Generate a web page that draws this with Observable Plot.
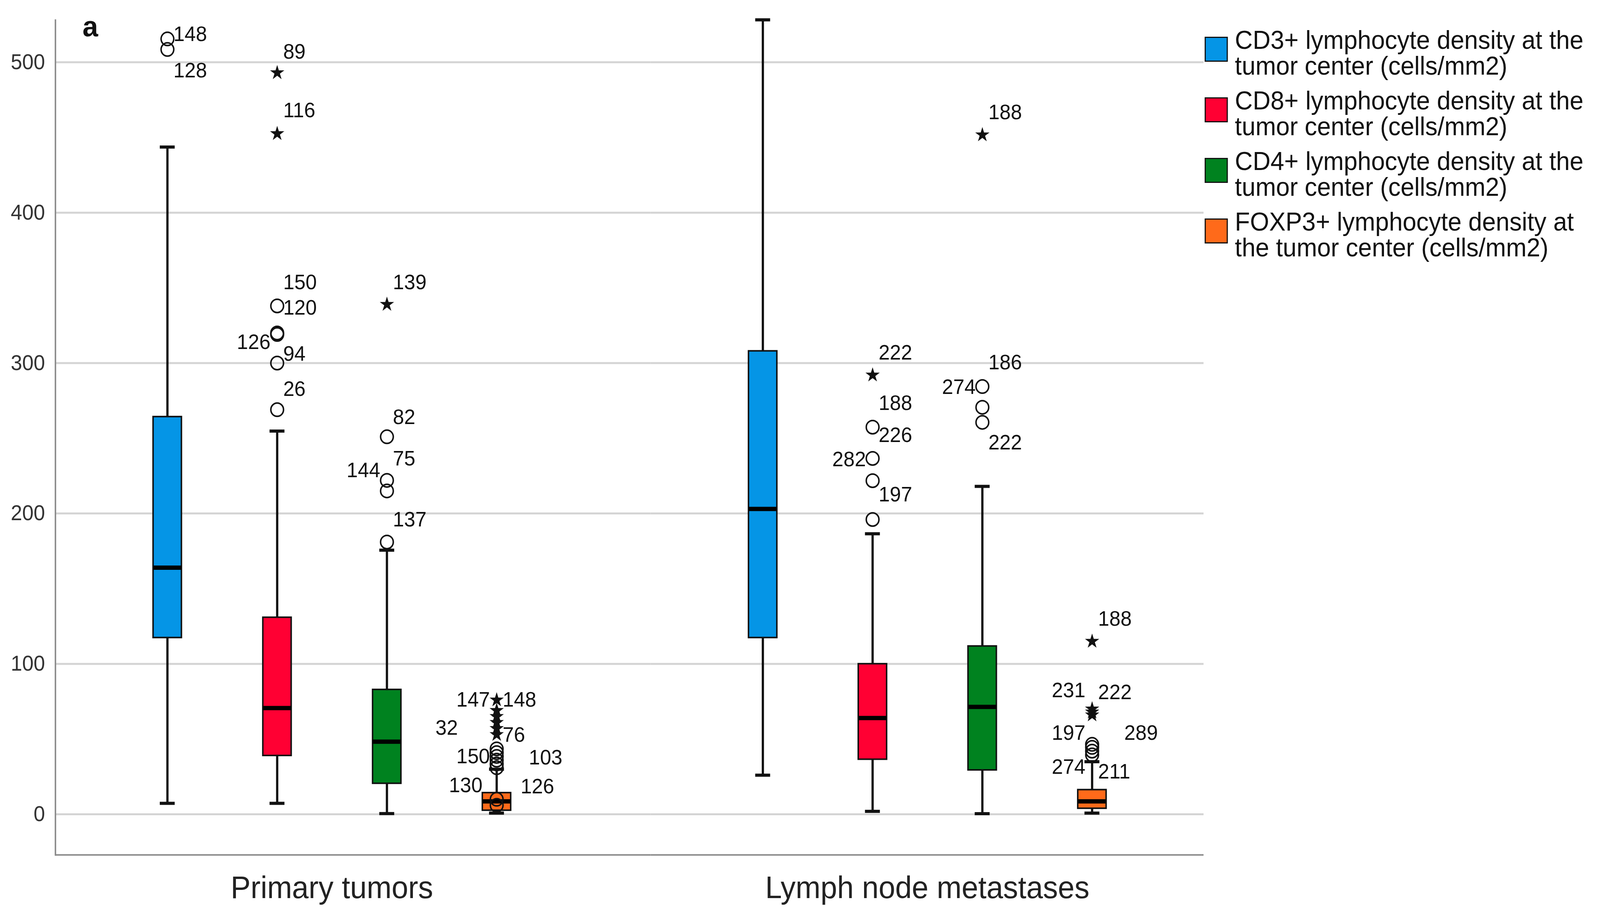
<!DOCTYPE html>
<html>
<head>
<meta charset="utf-8">
<script src="https://cdn.jsdelivr.net/npm/d3@7"></script>
<script src="https://cdn.jsdelivr.net/npm/@observablehq/plot@0.6"></script>
<style>
  html, body { margin: 0; padding: 0; background: #fff; overflow: hidden; }
  #wrap { position: relative; width: 4286px; height: 2331px; overflow: hidden; font-family: 'Liberation Sans', Arial, sans-serif; transform-origin: 0 0; }
  #wrap svg { position: absolute; left: 0; top: 0; }
  .panel { position: absolute; left: 221px; top: 30px; font-size: 75px; line-height: 75px; font-weight: bold; color: #111; }
  .sw { position: absolute; width: 56px; height: 58px; border: 3px solid #111; }
  .lt { position: absolute; font-size: 66px; line-height: 66px; color: #111; white-space: nowrap; }
</style>
</head>
<body>
<div id="wrap"></div>
<script>
// ---- data ----
const groups = ["Primary tumors", "Lymph node metastases"];
const seriesKeys = ["CD3", "CD8", "CD4", "FOXP3"];
const seriesColors = ["#0595E6", "#FF0033", "#00821F", "#FF6A1A"];
const legendLines = [
  ["CD3+ lymphocyte density at the", "tumor center (cells/mm2)"],
  ["CD8+ lymphocyte density at the", "tumor center (cells/mm2)"],
  ["CD4+ lymphocyte density at the", "tumor center (cells/mm2)"],
  ["FOXP3+ lymphocyte density at", "the tumor center (cells/mm2)"]
];
const yTicks = [0, 100, 200, 300, 400, 500];
const yDomain = [-27, 528];

// box statistics, rows = groups, columns = series
const whiskerLow  = [[7.3, 7.3, 0.5, 0.8], [26, 2, 0.4, 0.8]];
const quartile1   = [[117.4, 39, 20.5, 2.6], [117.4, 36.5, 29.4, 3.9]];
const medians     = [[164, 70.6, 48.3, 8.6], [203, 64, 71.4, 8.6]];
const quartile3   = [[264.3, 130.9, 82.9, 14.3], [308, 100, 111.8, 16.3]];
const whiskerHigh = [[443.6, 254.8, 175.6, 30], [528.2, 186.5, 218, 35]];

// outliers: [group index, series, value]
const circleOutliers = [
  [0, "CD3", 515.5], [0, "CD3", 508.5],
  [0, "CD8", 338], [0, "CD8", 320], [0, "CD8", 319], [0, "CD8", 300], [0, "CD8", 269],
  [0, "CD4", 251], [0, "CD4", 222], [0, "CD4", 215], [0, "CD4", 181],
  [0, "FOXP3", 31], [0, "FOXP3", 33.5], [0, "FOXP3", 36], [0, "FOXP3", 38.5], [0, "FOXP3", 41], [0, "FOXP3", 43.5],
  [0, "FOXP3", 10], [0, "FOXP3", 6],
  [1, "CD8", 257.4], [1, "CD8", 236.6], [1, "CD8", 221.8], [1, "CD8", 196],
  [1, "CD4", 284.4], [1, "CD4", 270.6], [1, "CD4", 260.6],
  [1, "FOXP3", 39.5], [1, "FOXP3", 42], [1, "FOXP3", 44.5], [1, "FOXP3", 46.5]
];
const starOutliers = [
  [0, "CD8", 493], [0, "CD8", 452.5],
  [0, "CD4", 339],
  [0, "FOXP3", 53], [0, "FOXP3", 57], [0, "FOXP3", 61], [0, "FOXP3", 65], [0, "FOXP3", 69], [0, "FOXP3", 76],
  [1, "CD8", 292],
  [1, "CD4", 451.7],
  [1, "FOXP3", 66], [1, "FOXP3", 68], [1, "FOXP3", 70], [1, "FOXP3", 115]
];
// case labels: [group index, series, text, value level, side]
const caseLabels = [
  [0, "CD3", "148", 518.5, "r"], [0, "CD3", "128", 494.3, "r"],
  [0, "CD8", "89", 507, "r"], [0, "CD8", "116", 468, "r"], [0, "CD8", "150", 353.7, "r"],
  [0, "CD8", "120", 336.6, "r"], [0, "CD8", "126", 313.9, "l"], [0, "CD8", "94", 306, "r"], [0, "CD8", "26", 282.7, "r"],
  [0, "CD4", "139", 353.7, "r"], [0, "CD4", "82", 264, "r"], [0, "CD4", "75", 236.5, "r"],
  [0, "CD4", "144", 228.7, "l"], [0, "CD4", "137", 196, "r"],
  [0, "FOXP3", "147", 76, "l"], [0, "FOXP3", "148", 76, "r"], [0, "FOXP3", "32", 57.5, "L"],
  [0, "FOXP3", "76", 52.6, "r"], [0, "FOXP3", "150", 38.4, "l"], [0, "FOXP3", "103", 37.6, "R"],
  [0, "FOXP3", "130", 19.2, "ll"], [0, "FOXP3", "126", 18.5, "rr"],
  [1, "CD8", "222", 306.8, "r"], [1, "CD8", "188", 273.4, "r"], [1, "CD8", "226", 252, "r"],
  [1, "CD8", "282", 235.8, "l"], [1, "CD8", "197", 212.4, "r"],
  [1, "CD4", "188", 466.6, "r"], [1, "CD4", "186", 300.4, "r"], [1, "CD4", "274", 284, "l"], [1, "CD4", "222", 247, "r"],
  [1, "FOXP3", "188", 130, "r"], [1, "FOXP3", "231", 82.4, "l"], [1, "FOXP3", "222", 81, "r"],
  [1, "FOXP3", "197", 54, "l"], [1, "FOXP3", "289", 54, "R"], [1, "FOXP3", "274", 31.3, "l"], [1, "FOXP3", "211", 28.4, "r"]
];

// ---- tables built from the arrays ----
const boxes = [];
groups.forEach((g, gi) => seriesKeys.forEach((s, si) => boxes.push({
  group: g, series: s,
  lo: whiskerLow[gi][si], q1: quartile1[gi][si], med: medians[gi][si],
  q3: quartile3[gi][si], hi: whiskerHigh[gi][si]
})));
const toPoint = ([gi, s, v]) => ({group: groups[gi], series: s, value: v});
const circles = circleOutliers.map(toPoint);
const stars = starOutliers.map(toPoint);
const labels = caseLabels.map(([gi, s, t, v, side]) => ({group: groups[gi], series: s, text: t, value: v, side}));
const sideOffsets = {r: 16, l: -18, rr: 64, ll: -38, R: 86, L: -104};

// layout
const W = 4286, H = 2331, mL = 147, mR = 1061, mT = 51, mB = 144;
const fxPadInner = 0.0714;
const facetGap = (W - mL - mR) / (2 - fxPadInner) * fxPadInner; // space between the two facets
// horizontal guides: the first facet's copy is stretched over the gap so lines run unbroken
const gridRows = groups.map(g => yTicks.map(y => ({group: g, y}))).flat();
const baseRows = groups.map(g => ({group: g, y: yDomain[0]}));

const labelMarks = Object.entries(sideOffsets).map(([side, dx]) =>
  Plot.text(labels.filter(d => d.side === side), {
    fx: "group", x: "series", y: "value", text: "text",
    dx, textAnchor: dx > 0 ? "start" : "end", fontSize: 54, fill: "#111"
  })
);
const chart = Plot.plot({
  width: W, height: H,
  marginLeft: mL, marginRight: mR, marginTop: mT, marginBottom: mB,
  style: {fontFamily: "'Liberation Sans', Arial, sans-serif", fontSize: "55px", background: "transparent", color: "#111"},
  fx: {domain: groups, paddingInner: fxPadInner, paddingOuter: 0, label: null},
  x: {domain: seriesKeys, paddingInner: 0.742, paddingOuter: 0.889, axis: null},
  y: {domain: yDomain, axis: null},
  color: {domain: seriesKeys, range: seriesColors},
  marks: [
    Plot.ruleY(gridRows.filter(d => d.group === groups[0]), {fx: "group", y: "y", stroke: "#d4d4d4", strokeWidth: 5, insetRight: -facetGap}),
    Plot.ruleY(gridRows.filter(d => d.group === groups[1]), {fx: "group", y: "y", stroke: "#d4d4d4", strokeWidth: 5}),
    Plot.ruleY(baseRows.filter(d => d.group === groups[0]), {fx: "group", y: "y", stroke: "#8c8c8c", strokeWidth: 4, insetRight: -facetGap}),
    Plot.ruleY(baseRows.filter(d => d.group === groups[1]), {fx: "group", y: "y", stroke: "#8c8c8c", strokeWidth: 4}),
    Plot.frame({anchor: "left", facetAnchor: "left", stroke: "#8c8c8c", strokeWidth: 4}),
    Plot.axisY(yTicks, {tickSize: 0, tickPadding: 28, fontSize: 55, fill: "#333", label: null}),
    Plot.axisFx({anchor: "bottom", tickSize: 0, tickPadding: 54, fontSize: 80, fill: "#222", label: null}),
    Plot.ruleX(boxes, {fx: "group", x: "series", y1: "lo", y2: "q1", stroke: "#111", strokeWidth: 6}),
    Plot.ruleX(boxes, {fx: "group", x: "series", y1: "q3", y2: "hi", stroke: "#111", strokeWidth: 6}),
    Plot.tickY(boxes, {fx: "group", x: "series", y: "lo", stroke: "#111", strokeWidth: 8, insetLeft: 18, insetRight: 18}),
    Plot.tickY(boxes, {fx: "group", x: "series", y: "hi", stroke: "#111", strokeWidth: 8, insetLeft: 18, insetRight: 18}),
    Plot.barY(boxes, {fx: "group", x: "series", y1: "q1", y2: "q3", fill: "series", stroke: "#111", strokeWidth: 4}),
    Plot.tickY(boxes, {fx: "group", x: "series", y: "med", stroke: "#000", strokeWidth: 11}),
    Plot.dot(circles, {fx: "group", x: "series", y: "value", r: 17, stroke: "#111", strokeWidth: 4, fill: "none"}),
    Plot.dot(stars, {fx: "group", x: "series", y: "value", symbol: "star", r: 12, fill: "#111", stroke: "none"}),
    ...labelMarks
  ]
});
const wrap = document.getElementById("wrap");
wrap.appendChild(chart);

// panel letter
const panel = document.createElement("div");
panel.className = "panel";
panel.textContent = "a";
wrap.appendChild(panel);

// legend from the colour scale
const color = chart.scale("color");
const legendTop0 = 94, legendStep = 155;
seriesKeys.forEach((k, i) => {
  const top = legendTop0 + i * legendStep;
  const sw = document.createElement("div");
  sw.className = "sw";
  sw.style.left = "3227px";
  sw.style.top = top + "px";
  sw.style.background = color.apply(k);
  wrap.appendChild(sw);
  legendLines[i].forEach((line, j) => {
    const t = document.createElement("div");
    t.className = "lt";
    t.style.left = "3308px";
    t.style.top = (top - 25 + j * 66) + "px";
    t.textContent = line;
    wrap.appendChild(t);
  });
});

// fit the 4286×2331 figure into the actual viewport
const sx = Math.min(1, window.innerWidth / W);
const sy = Math.min(1, window.innerHeight / H);
wrap.style.transform = `scale(${sx}, ${sy})`;
</script>
</body>
</html>
